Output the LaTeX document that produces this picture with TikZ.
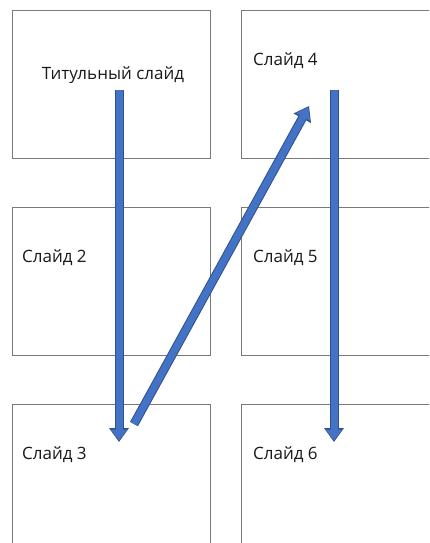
\documentclass[tikz,border=0pt]{standalone}
\usepackage{fontspec}
\setmainfont{Open Sans}
\usetikzlibrary{arrows.meta}
\definecolor{boxline}{HTML}{7A7A7A}
\definecolor{arrfill}{HTML}{4472C4}
\definecolor{arredge}{HTML}{2F528F}
\tikzset{
  slide/.style={draw=boxline, line width=1.2pt, fill=white, minimum width=198pt, minimum height=148pt, anchor=north west, inner sep=0pt},
  slidewide/.style={slide, minimum width=240pt},
  slidetall/.style={slide, minimum height=200pt},
  slidebig/.style={slide, minimum width=240pt, minimum height=200pt},
  lbl/.style={font=\fontsize{17}{20}\selectfont, anchor=base west, inner sep=0pt, text=black!90},
  arrout/.style={draw=arredge, line width=9pt, -{Triangle[width=19pt,length=14pt]}},
  arrin/.style={draw=arrfill, line width=7pt, -{Triangle[width=15.5pt,length=11pt]}, shorten >=1.5pt},
}
\begin{document}
\begin{tikzpicture}[x=1pt,y=-1pt]
\useasboundingbox (0,0) rectangle (429,543);
\clip (0,0) rectangle (429,543);
\node[slide] (s1) at (12,10) {};
\node[slidewide] (s4) at (241,10) {};
\node[slide] (s2) at (12,207) {};
\node[slidewide] (s5) at (241,207) {};
\node[slidetall] (s3) at (12,404) {};
\node[slidebig] (s6) at (241,404) {};
\node[lbl, anchor=base] (t1) at (113,79) {Титульный слайд};
\node[lbl] (t4) at (253,65) {Слайд 4};
\node[lbl] (t2) at (22,262) {Слайд 2};
\node[lbl] (t5) at (253,262) {Слайд 5};
\node[lbl] (t3) at (22,459) {Слайд 3};
\node[lbl] (t6) at (253,459) {Слайд 6};
\coordinate (a1s) at (119,90);
\coordinate (a1e) at (119,442);
\coordinate (a2s) at (134,424);
\coordinate (a2e) at (309,106);
\coordinate (a3s) at (334,90);
\coordinate (a3e) at (334,442);
\foreach \s/\e in {a1s/a1e,a2s/a2e,a3s/a3e}{
  \draw[arrout] (\s) -- (\e);
  \draw[arrin] (\s) -- (\e);
}
\end{tikzpicture}
\end{document}
